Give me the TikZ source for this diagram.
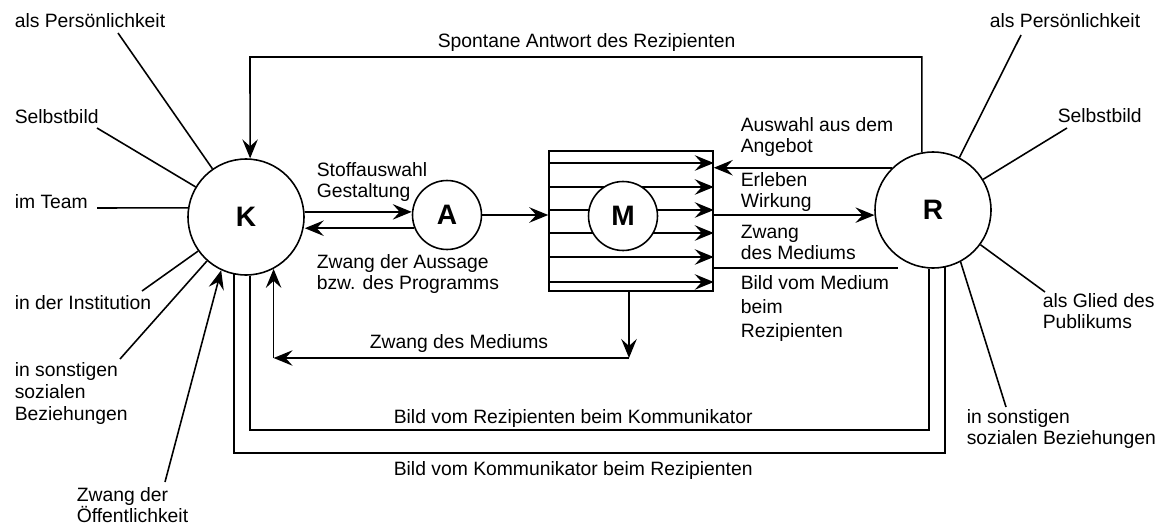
\documentclass[tikz,border=0pt]{standalone}
\usepackage{fontspec}
\setmainfont{Liberation Sans}
\usetikzlibrary{arrows.meta}

\begin{document}
\begin{tikzpicture}[
      x=0.02cm, y=-0.02cm,
      line width=0.9pt,
      >={Stealth[length=3.8mm,width=3.1mm,inset=1.4mm]},
      font=\fontsize{11}{11.5}\selectfont,
      person/.style={circle,draw,fill=white,minimum size=2.32cm,inner sep=0pt,font=\fontsize{16}{18}\selectfont\bfseries},
      inner/.style={circle,draw,fill=white,minimum size=1.38cm,inner sep=0pt,font=\fontsize{16}{18}\selectfont\bfseries},
      medium/.style={draw,minimum width=3.28cm,minimum height=2.8cm,inner sep=0pt},
      lbl/.style={anchor=base west,inner sep=0pt,align=left},
      flow/.style={->}
    ]
      \useasboundingbox (0,0) rectangle (1165,527);

      \node[person] (K) at (246,217) {K};
      \node[person] (R) at (933,210) {R};
      \node[inner] (A) at (447,215) {A};

      % Medium mit Kanaelen
      \node[medium] (box) at (631,221) {};
      \foreach \y in {163,187,210,233,257,282}
        \draw[flow] (box.west |- 0,\y) -- (box.east |- 0,\y);
      \node[inner] (M) at (623,216) {M};

      % Kommunikator
      \coordinate (kp) at (118,33);
      \coordinate (ks) at (97,128);
      \coordinate (kt) at (97,208);
      \coordinate (ki) at (142,291);
      \coordinate (kz) at (120,359);
      \coordinate (ko) at (165,482);
      \draw (kp) -- (K);
      \draw (ks) -- (K);
      \draw (kt) -- (K.171);
      \draw (ki) -- (K);
      \draw (kz) -- (K);
      \draw[flow] (ko) -- (K.-115);

      % (base = letzte Zeile)
      \node[lbl] (lkp) at (14,28) {als Persönlichkeit};
      \node[lbl] (lks) at (14,123) {Selbstbild};
      \node[lbl] (lkt) at (14,208) {im Team};
      \node[lbl] (lki) at (14,309) {in der Institution};
      \node[lbl] (lkz) at (14,420) {in sonstigen\\[1pt]sozialen\\[1pt]Beziehungen};
      \node[lbl] (lko) at (76,522) {Zwang der\\Öffentlichkeit};

      % Rezipient
      \coordinate (rp) at (1021,35);
      \coordinate (rs) at (1067,128);
      \coordinate (rg) at (1045,292);
      \coordinate (rz) at (1006,407);
      \draw (rp) -- (R);
      \draw (rs) -- (R);
      \draw (rg) -- (R);
      \draw (rz) -- (R.-62);

      \node[lbl] (lrp) at (989,28) {als Persönlichkeit};
      \node[lbl] (lrs) at (1057,122) {Selbstbild};
      \node[lbl] (lrg) at (1042,328) {als Glied des\\Publikums};
      \node[lbl] (lrz) at (966,444) {in sonstigen\\sozialen Beziehungen};

      % K -- A -- M
      \draw[flow] (K.5) -- (K.5 -| A.west);
      \draw[flow] (A.-158) -- (A.-158 -| K.east);
      \draw[flow] (A.east) -- (A.east -| box.west);
      \node[lbl] (lstoff) at (316,197) {Stoffauswahl\\Gestaltung};
      \node[lbl] (lauss) at (316,289) {Zwang der Aussage\\bzw. des Programms};

      % M -- R
      \coordinate (zmr) at (898,268);
      \draw[flow] (R.134) -- (R.134 -| box.east);
      \draw[flow] (R.185 -| box.east) -- (R.185);
      \draw (zmr -| box.east) -- (zmr);
      \node[lbl] (lausw) at (740,152) {Auswahl aus dem\\Angebot};
      \node[lbl] (lerl) at (740,207) {Erleben\\Wirkung};
      \node[lbl] (lzwr) at (740,259) {Zwang\\des Mediums};
      \node[lbl] (lbild) at (740,337) {Bild vom Medium\\[2pt]beim\\[2pt]Rezipienten};

      % Zwang des Mediums zum K
      \coordinate (zm) at (629,358);
      \draw[flow] (box.south -| zm) -- (zm);
      \draw[flow] (zm) -- (zm -| K.-62);
      \draw[flow] (zm -| K.-62) -- (K.-62);
      \node[lbl] (lzwk) at (369,348) {Zwang des Mediums};

      % Rueckkopplungen
      \coordinate (spon) at (250,57);
      \coordinate (innen) at (0,430);
      \coordinate (aussen) at (0,453);
      \draw[flow] (R.101) |- (spon) -- (K.86);
      \draw (K.-86) |- (innen -| R.-94) -- (R.-94);
      \draw (K.-102) |- (aussen -| R.-78) -- (R.-78);
      \node[lbl] (lspon) at (437,48) {Spontane Antwort des Rezipienten};
      \node[lbl] (lrk) at (393,423) {Bild vom Rezipienten beim Kommunikator};
      \node[lbl] (lkr) at (393,475) {Bild vom Kommunikator beim Rezipienten};
    \end{tikzpicture}
\end{document}
